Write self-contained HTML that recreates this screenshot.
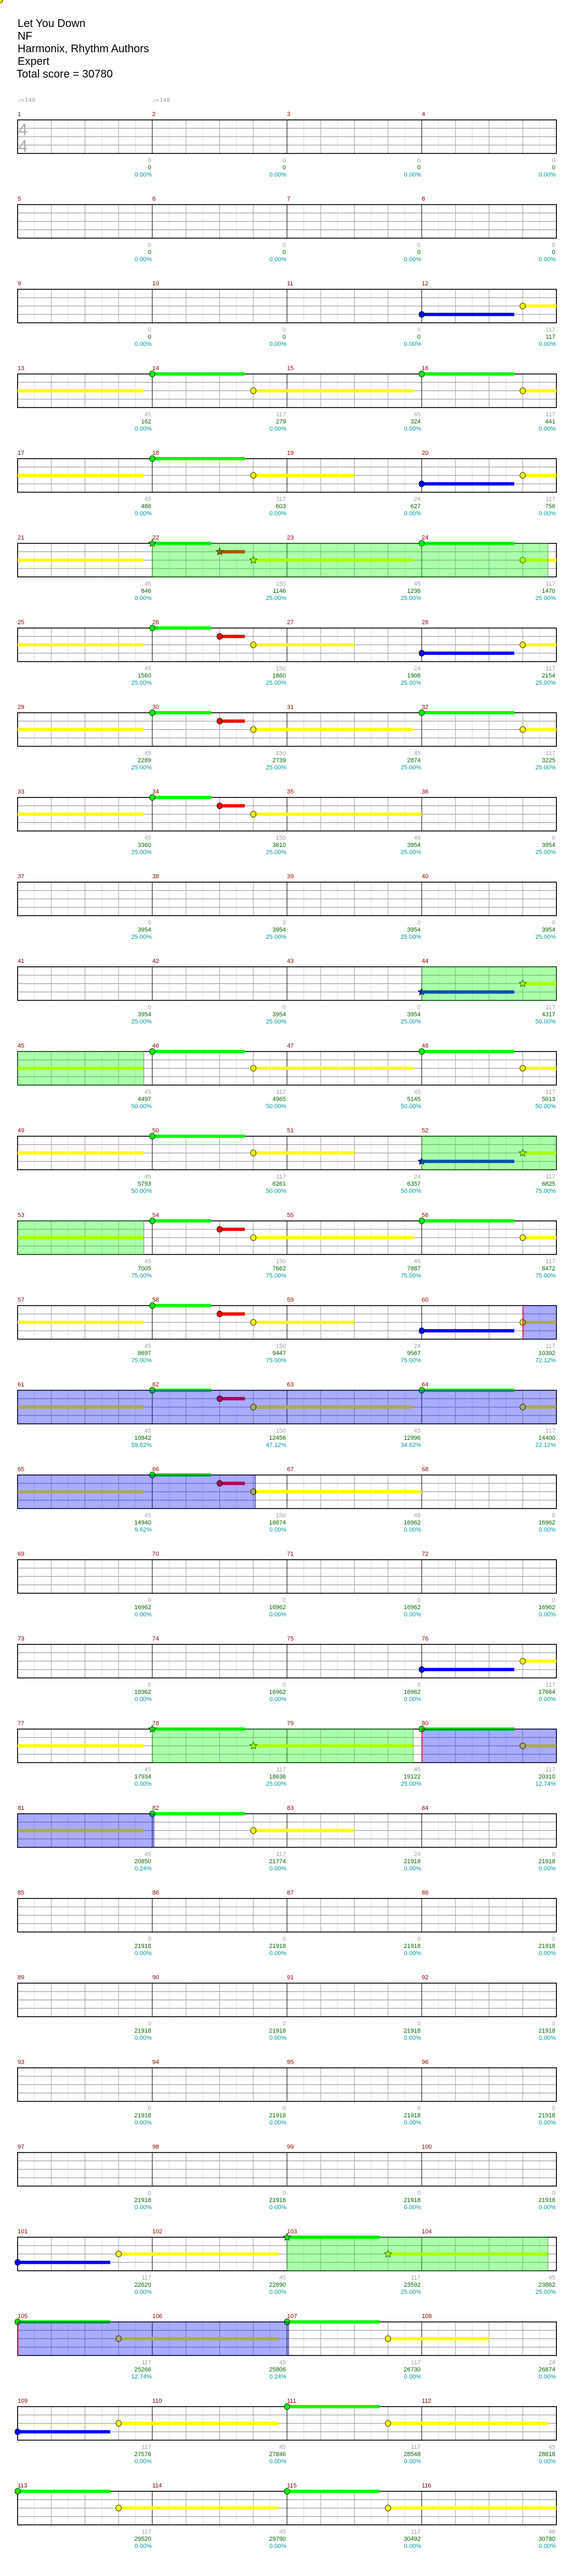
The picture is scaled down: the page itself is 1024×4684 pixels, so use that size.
<!DOCTYPE html>
<html><head><meta charset="utf-8"><title>Let You Down - NF</title>
<style>
html,body{margin:0;padding:0;background:#fff;}
svg{display:block;font-family:"Liberation Sans",sans-serif;}
</style></head>
<body>
<svg id="chart" width="1024" height="4684" viewBox="0 0 1024 4684" xmlns="http://www.w3.org/2000/svg">
  <rect x="0" y="0" width="1024" height="4684" fill="#fff"/>
  <g font-size="20" fill="#000">
    <text x="32" y="49">Let You Down</text>
    <text x="32" y="72">NF</text>
    <text x="32" y="95">Harmonix, Rhythm Authors</text>
    <text x="32" y="118">Expert</text>
    <text x="30" y="141">Total score = 30780</text>
  </g>
  <g id="layer-grid"></g>
  <g id="layer-notes"></g>
  <g id="layer-areas"></g>
  <g id="layer-text"></g>
</svg>
<script>
const measureGray = [
0,0,0,0, 0,0,0,0, 0,0,0,117, 45,117,45,117, 45,117,24,117, 45,150,45,117, 45,150,24,117, 45,150,45,117,
45,150,48,0, 0,0,0,0, 0,0,0,117, 45,117,45,117, 45,117,24,117, 45,150,45,117, 45,150,24,117, 45,150,45,117,
45,150,48,0, 0,0,0,0, 0,0,0,117, 45,117,45,117, 45,117,24,0, 0,0,0,0, 0,0,0,0, 0,0,0,0,
0,0,0,0, 117,45,117,45, 117,45,117,24, 117,45,117,45, 117,45,117,48];
const measureScore = [
0,0,0,0, 0,0,0,0, 0,0,0,117, 162,279,324,441, 486,603,627,756, 846,1146,1236,1470, 1560,1860,1908,2154, 2289,2739,2874,3225,
3360,3810,3954,3954, 3954,3954,3954,3954, 3954,3954,3954,4317, 4497,4965,5145,5613, 5793,6261,6357,6825, 7005,7662,7887,8472,
8697,9447,9567,10392, 10842,12456,12996,14400, 14940,16674,16962,16962, 16962,16962,16962,16962, 16962,16962,16962,17664,
17934,18636,19122,20310, 20850,21774,21918,21918, 21918,21918,21918,21918, 21918,21918,21918,21918, 21918,21918,21918,21918,
21918,21918,21918,21918, 22620,22890,23592,23862, 25266,25806,26730,26874, 27576,27846,28548,28818, 29520,29790,30492,30780];
const measurePct = [
"0.00%","0.00%","0.00%","0.00%","0.00%","0.00%","0.00%","0.00%","0.00%","0.00%","0.00%","0.00%",
"0.00%","0.00%","0.00%","0.00%","0.00%","0.00%","0.00%","0.00%","0.00%","25.00%","25.00%","25.00%",
"25.00%","25.00%","25.00%","25.00%","25.00%","25.00%","25.00%","25.00%","25.00%","25.00%","25.00%","25.00%",
"25.00%","25.00%","25.00%","25.00%","25.00%","25.00%","25.00%","50.00%","50.00%","50.00%","50.00%","50.00%",
"50.00%","50.00%","50.00%","75.00%","75.00%","75.00%","75.00%","75.00%","75.00%","75.00%","75.00%","72.12%",
"59.62%","47.12%","34.62%","22.12%","9.62%","0.00%","0.00%","0.00%","0.00%","0.00%","0.00%","0.00%",
"0.00%","0.00%","0.00%","0.00%","0.00%","25.00%","25.00%","12.74%","0.24%","0.00%","0.00%","0.00%",
"0.00%","0.00%","0.00%","0.00%","0.00%","0.00%","0.00%","0.00%","0.00%","0.00%","0.00%","0.00%",
"0.00%","0.00%","0.00%","0.00%","0.00%","0.00%","25.00%","25.00%","12.74%","0.24%","0.00%","0.00%",
"0.00%","0.00%","0.00%","0.00%","0.00%","0.00%","0.00%","0.00%"];
// notes: lane (0 green,1 red,2 yellow,3 blue), start/end in global beats, star flag
const noteLane  = [3,2,0,2,0,2,0,2,3,2, 0,1,2,0,2,0,1,2,3,2, 0,1,2,0,2,0,1,2,3,2, 0,2,0,2,0,2,3,2,0,1, 2,0,2,0,1,2,3,2,0,1, 2,0,2,0,1,2,3,2,0,2, 0,2,0,2,3,2,0,2,0,2, 0,2,3,2,0,2,0,2,0,2, 0,2];
const noteStart = [44,47,52,55,60,63,68,71,76,79, 84,86,87,92,95,100,102,103,108,111, 116,118,119,124,127,132,134,135,172,175, 180,183,188,191,196,199,204,207,212,214, 215,220,223,228,230,231,236,239,244,246, 247,252,255,260,262,263,300,303,308,311, 316,319,324,327,400,403,408,411,416,419, 424,427,432,435,440,443,448,451,456,459];
const noteEnd   = [46.75,51.75,54.75,59.75,62.75,67.75,70.75,74,78.75,83.75, 85.75,86.75,91.75,94.75,99.75,101.75,102.75,106,110.75,115.75, 117.75,118.75,123.75,126.75,131.75,133.75,134.75,140,174.75,179.75, 182.75,187.75,190.75,195.75,198.75,202,206.75,211.75,213.75,214.75, 219.75,222.75,227.75,229.75,230.75,234,238.75,243.75,245.75,246.75, 251.75,254.75,259.75,261.75,262.75,268,302.75,307.75,310.75,315.75, 318.75,323.75,326.75,330,402.75,407.75,410.75,415.75,418.75,423.75, 426.75,430,434.75,439.75,442.75,447.75,450.75,455.75,458.75,464];
const noteStar  = [0,0,0,0,0,0,0,0,0,0, 1,1,1,0,0,0,0,0,0,0, 0,0,0,0,0,0,0,0,1,1, 0,0,0,0,0,0,1,1,0,0, 0,0,0,0,0,0,0,0,0,0, 0,0,0,0,0,0,0,0,1,1, 0,0,0,0,0,0,1,1,0,0, 0,0,0,0,0,0,0,0,0,0, 0,0];
const odStart = [84,172,204,308,408];
const odEnd   = [95.75,179.75,211.75,315.75,415.75];
const actStart = [239,316,416];
const actEnd   = [263.06,324.05,424.05];

const NS="http://www.w3.org/2000/svg";
const X0=32, BEAT=61.25, TOP0=218, PITCH=154, H=61, ROWS=29;
const laneColor=["#00ff00","#ff0000","#ffff00","#0000ff","#ff8000"];
function rowTop(r){return TOP0+r*PITCH;}
function xOf(beat,r){return X0+(beat-r*16)*BEAT;}
function laneY(l,r){return rowTop(r)+l*H/4;}
function mk(tag,attrs,parent){const e=document.createElementNS(NS,tag);for(const k in attrs)e.setAttribute(k,attrs[k]);parent.appendChild(e);return e;}
const gGrid=document.getElementById('layer-grid'),gNotes=document.getElementById('layer-notes'),gAreas=document.getElementById('layer-areas'),gText=document.getElementById('layer-text');

for(let r=0;r<ROWS;r++){
  const T=rowTop(r);
  const g=mk('g',{},gGrid);
  
  
  for(let h=1;h<32;h++){ if(h%2===1) mk('line',{x1:X0+h*BEAT/2,x2:X0+h*BEAT/2,y1:T,y2:T+H,stroke:'#e0e0e0','stroke-width':1},g);}
  for(let b=1;b<16;b++){ if(b%4!==0) mk('line',{x1:X0+b*BEAT,x2:X0+b*BEAT,y1:T,y2:T+H,stroke:'#a0a0a0','stroke-width':1},g);}
  for(let l=1;l<4;l++) mk('line',{x1:X0,x2:X0+16*BEAT,y1:T+l*H/4,y2:T+l*H/4,stroke:'#a0a0a0','stroke-width':1.3},g);
  for(let m=1;m<4;m++) mk('line',{x1:X0+m*4*BEAT,x2:X0+m*4*BEAT,y1:T,y2:T+H,stroke:'#000','stroke-width':1},g);
  mk('rect',{x:X0,y:T,width:16*BEAT,height:H,fill:'none',stroke:'#000','stroke-width':1.6},g);
}

// area overlays
function drawArea(s,e,fill,stroke,name,redStart){
  for(let r=Math.floor(s/16);r<=Math.floor((e-0.001)/16);r++){
    const a=Math.max(s,r*16),b=Math.min(e,r*16+16);
    const rc=mk('rect',{x:xOf(a,r),y:rowTop(r),width:(b-a)*BEAT,height:H,fill:fill,stroke:stroke,'stroke-width':1},gAreas);
    
    
    if(redStart && a===s){
      const ln=mk('line',{x1:xOf(s,r)+1,x2:xOf(s,r)+1,y1:rowTop(r),y2:rowTop(r)+H,stroke:'rgba(255,60,60,0.55)','stroke-width':3},gAreas);
      
      
    }
  }
}

// notes
function starPath(cx,cy,R){let d='';for(let i=0;i<10;i++){const rr=i%2?R*0.45:R;const a=-Math.PI/2+i*Math.PI/5;d+=(i?'L':'M')+(cx+rr*Math.cos(a)).toFixed(2)+','+(cy+rr*Math.sin(a)).toFixed(2);}return d+'Z';}
for(let i=0;i<noteLane.length;i++){
  const s=noteStart[i],e=noteEnd[i],l=noteLane[i],c=laneColor[l];
  for(let r=Math.floor(s/16);r<=Math.floor((e-0.001)/16);r++){
    const a=Math.max(s,r*16),b=Math.min(e,r*16+16);
    const y=laneY(l,r);
    const bar=mk('rect',{x:xOf(a,r),y:y-3,width:(b-a)*BEAT,height:6,fill:c},gNotes);
    
    
  }
  const r0=Math.floor(s/16),hx=xOf(s,r0),hy=laneY(l,r0);
  if(noteStar[i]){
    const st=mk('path',{d:starPath(hx,hy,7),fill:c,stroke:'#000','stroke-width':0.8},gNotes);
    
    
  } else {
    const el=mk('ellipse',{cx:hx,cy:hy,rx:5,ry:5.5,fill:c,stroke:'#000','stroke-width':0.8},gNotes);
    
    
  }
}
for(let i=0;i<odStart.length;i++) drawArea(odStart[i],odEnd[i],'rgba(0,255,0,0.33)','rgba(0,120,0,0.6)','overdrive-phrase',false);
for(let i=0;i<actStart.length;i++) drawArea(actStart[i],actEnd[i],'rgba(0,0,255,0.33)','rgba(0,0,100,0.8)','overdrive-activation',true);

// labels
for(let m=0;m<measureGray.length;m++){
  const r=Math.floor(m/4),T=rowTop(r),xs=X0+(m%4)*4*BEAT,xe=xs+4*BEAT;
  const n=mk('text',{x:xs,y:T-7,'font-size':11,fill:'#8b0000'},gText);
  n.textContent=String(m+1);
  
  
  const t1=mk('text',{x:xe-2,y:T+77,'font-size':11,fill:'#a0a0a0','text-anchor':'end'},gText);
  t1.textContent=String(measureGray[m]);
  
  
  const t2=mk('text',{x:xe-2,y:T+90,'font-size':11,fill:'#006400','text-anchor':'end'},gText);
  t2.textContent=String(measureScore[m]);
  
  
  const t3=mk('text',{x:xe-1,y:T+103,'font-size':11,fill:'#009999','text-anchor':'end'},gText);
  t3.textContent=measurePct[m];
  
  
}
// tempo markers and time signature
const tempoBeats=[0,4];
for(let i=0;i<tempoBeats.length;i++){
  const tx=mk('text',{x:xOf(tempoBeats[i],0),y:TOP0-33,'font-size':10,fill:'#999','font-family':'DejaVu Sans, sans-serif'},gText);
  tx.textContent='\u2669=148';
  
  
}
const ts1=mk('text',{x:33,y:TOP0+28,'font-size':31,fill:'#aaa'},gText);
ts1.textContent='4';


const ts2=mk('text',{x:33,y:TOP0+58,'font-size':31,fill:'#aaa'},gText);
ts2.textContent='4';


</script>
</body></html>
